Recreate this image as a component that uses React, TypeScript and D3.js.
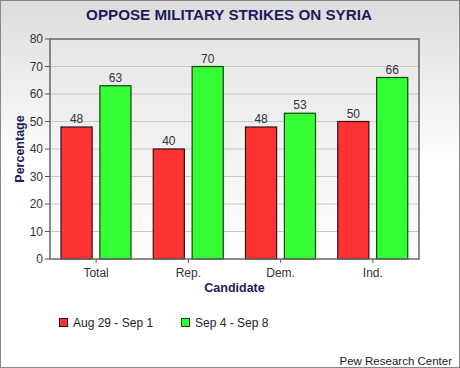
import React from 'react';
import * as d3 from 'd3';

const categories = ['Total', 'Rep.', 'Dem.', 'Ind.'];
const seriesNames = ['Aug 29 - Sep 1', 'Sep 4 - Sep 8'];
const augValues = [48, 40, 48, 50];
const sepValues = [63, 70, 53, 66];
const yTicks = [0, 10, 20, 30, 40, 50, 60, 70, 80];

const colors = ['#ff3333', '#33ff33'];
const strokes = ['#331111', '#114411'];
const navy = '#1c1c5c';

const App = () => {
  const width = 460;
  const height = 368;
  const margin = { top: 39, right: 41, bottom: 109, left: 50 };
  const innerW = width - margin.left - margin.right;
  const innerH = height - margin.top - margin.bottom;

  const x = d3.scaleBand().domain(categories).range([0, innerW]).paddingInner(0).paddingOuter(0);
  const inner = d3.scaleBand().domain(['0', '1']).range([11, 81]).paddingInner(0.2);
  const y = d3.scaleLinear().domain([0, 80]).range([innerH, 0]);
  const series = [augValues, sepValues];

  return (
    <svg width={width} height={height} style={{ position: 'absolute', left: 0, top: 0 }}
      fontFamily="'Liberation Sans', Arial, sans-serif">
      <defs>
        <linearGradient id="bg" x1="0" y1="0" x2="0" y2="1">
          <stop offset="0" stopColor="#dcdcdc" />
          <stop offset="0.45" stopColor="#ffffff" />
          <stop offset="1" stopColor="#ffffff" />
        </linearGradient>
        <linearGradient id="plotbg" x1="0" y1="0" x2="0" y2="1">
          <stop offset="0" stopColor="#e6e6e6" />
          <stop offset="1" stopColor="#ffffff" />
        </linearGradient>
      </defs>
      <rect x={0.5} y={0.5} width={width - 1} height={height - 1} fill="url(#bg)" stroke="#888" />
      <text x={229} y={20} textAnchor="middle" fontSize={15.2} fontWeight="bold" fill={navy}>
        OPPOSE MILITARY STRIKES ON SYRIA
      </text>
      <g transform={`translate(${margin.left},${margin.top})`}>
        <rect width={innerW} height={innerH} fill="url(#plotbg)" />
        {yTicks.map((t) => (
          <g key={t} transform={`translate(0,${y(t)})`}>
            {t > 0 && t < 80 && <line x1={0} x2={innerW} stroke="#c8c8c8" />}
            <line x1={-5} x2={0} stroke="#555" />
            <text x={-7} dy="0.35em" textAnchor="end" fontSize={12} fill="#333">{t}</text>
          </g>
        ))}
        {categories.map((c, i) => (
          <g key={c} transform={`translate(${x(c)},0)`}>
            {series.map((vals, s) => (
              <g key={s}>
                <rect x={inner(String(s))} y={y(vals[i])} width={inner.bandwidth()}
                  height={innerH - y(vals[i])} fill={colors[s]} stroke={strokes[s]} strokeWidth={1.2} />
                <text x={(inner(String(s)) as number) + inner.bandwidth() / 2} y={y(vals[i]) - 4}
                  textAnchor="middle" fontSize={12} fill="#333">{vals[i]}</text>
              </g>
            ))}
            <line x1={x.bandwidth() / 2} x2={x.bandwidth() / 2} y1={innerH} y2={innerH + 4} stroke="#555" />
            <text x={x.bandwidth() / 2} y={innerH + 18} textAnchor="middle" fontSize={12} fill="#333">{c}</text>
          </g>
        ))}
        <rect width={innerW} height={innerH} fill="none" stroke="#666" strokeWidth={1.5} />
        <text x={innerW / 2} y={innerH + 33} textAnchor="middle" fontSize={12.5} fontWeight="bold" fill={navy}>
          Candidate
        </text>
        <text transform={`translate(-26,${innerH / 2}) rotate(-90)`} textAnchor="middle" fontSize={12.5}
          fontWeight="bold" fill={navy}>Percentage</text>
      </g>
      {seriesNames.map((n, s) => (
        <g key={n} transform={`translate(${59 + s * 122},318)`}>
          <rect x={0.5} y={0.5} width={8} height={8} fill={colors[s]} stroke={strokes[s]} />
          <text x={14} y={9} fontSize={12} fill="#222">{n}</text>
        </g>
      ))}
      <text x={452} y={365} textAnchor="end" fontSize={11.5} fill="#222">Pew Research Center</text>
    </svg>
  );
};

export default App;
